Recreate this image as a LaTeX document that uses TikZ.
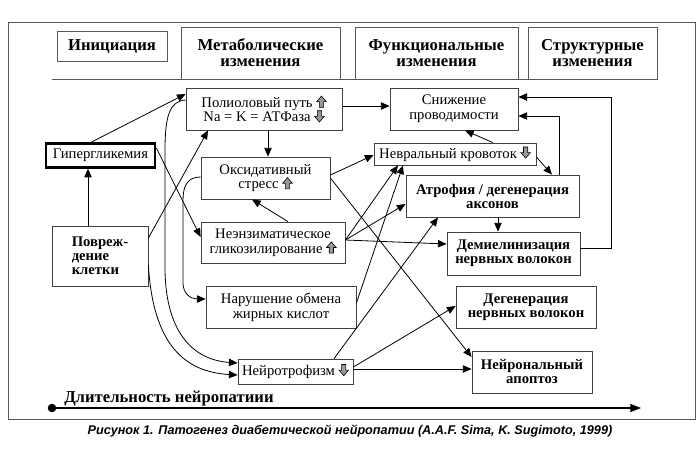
\documentclass[tikz,border=0pt]{standalone}
\usepackage{fontspec}
\setmainfont{Liberation Serif}
\newfontfamily\capfont{Liberation Sans}
\usetikzlibrary{arrows.meta}
\newcommand{\uarr}{\tikz[baseline=0pt,x=1pt,y=1pt,line width=0.45pt]\draw[draw=black,fill=black!40] (2,0)--(2,4.2)--(0,4.2)--(3.6,8.4)--(7.2,4.2)--(5.2,4.2)--(5.2,0)--cycle;}
\newcommand{\darr}{\tikz[baseline=0pt,x=1pt,y=1pt,line width=0.45pt]\draw[draw=black,fill=black!40] (2,8.4)--(2,4.2)--(0,4.2)--(3.6,0)--(7.2,4.2)--(5.2,4.2)--(5.2,8.4)--cycle;}
\begin{document}
\begin{tikzpicture}[x=0.75pt,y=-0.75pt,
  box/.style={draw=black!75, line width=0.6pt, fill=white, inner sep=0pt, align=center,
              font=\fontsize{11}{11}\selectfont},
  bbox/.style={box, font=\fontsize{11}{10.5}\selectfont\bfseries},
  head/.style={draw=black!65, line width=0.6pt, inner sep=0pt, align=center,
               font=\fontsize{12.5}{12}\selectfont\bfseries},
  conn/.style={line width=0.6pt, -{Triangle[length=6.5pt,width=5.5pt]}}]
\useasboundingbox (0,0) rectangle (700,462);
% frame
\draw[black!65, line width=0.7pt] (8,22) rectangle (695,419);
% header
\node[head, minimum width=82.5pt, minimum height=22.5pt] (init) at (112,46) {Инициация};
\node[head, minimum width=119.25pt, minimum height=39pt] (meta) at (260.5,53) {Метаболические\\изменения};
\node[head, minimum width=122.25pt, minimum height=39pt] (func) at (436.5,53) {Функциональные\\изменения};
\node[head, minimum width=96.75pt, minimum height=39pt] (struct) at (592.5,53) {Структурные\\изменения};
\draw[black!65, line width=0.7pt] (52,79) -- (657,79);
% boxes
\node[box, minimum width=117pt, minimum height=31.5pt] (poly) at (264,109) {Полиоловый путь \uarr\\Na = K = АТФаза \darr};
\node[box, draw=black, line width=1.8pt, minimum width=82pt, minimum height=18pt] (hyper) at (100.5,155.5) {Гипергликемия};
\node[box, minimum width=96.75pt, minimum height=31.5pt] (oxid) at (265.5,178) {Оксидативный\\стресс \uarr};
\node[box, minimum width=108pt, minimum height=30.75pt] (glyc) at (273,242.5) {Неэнзиматическое\\гликозилирование \uarr};
\node[bbox, minimum width=72pt, minimum height=45pt, align=left] (damage) at (100,256) {Повреж-\\дение\\ клетки};
\node[box, minimum width=112.5pt, minimum height=31.5pt] (fat) at (281,307) {Нарушение обмена\\жирных кислот};
\node[box, minimum width=86.25pt, minimum height=18.75pt] (neurotr) at (295.5,371.5) {Нейротрофизм \darr};
\node[box, minimum width=96pt, minimum height=31.5pt] (cond) at (454,109) {Снижение\\проводимости};
\node[box, minimum width=121.5pt, minimum height=16.5pt] (flow) at (455,154) {Невральный кровоток \darr};
\node[bbox, minimum width=129.75pt, minimum height=31.5pt] (atrophy) at (492.5,196) {Атрофия / дегенерация\\аксонов};
\node[bbox, minimum width=99.75pt, minimum height=32.25pt] (demyel) at (513.5,253.5) {Демиелинизация\\нервных волокон};
\node[bbox, minimum width=105pt, minimum height=31.5pt] (degen) at (526,307) {Дегенерация\\нервных волокон};
\node[bbox, minimum width=90pt, minimum height=31.5pt] (apopt) at (532,372) {Нейрональный\\апоптоз};
% connectors
\draw[conn] (hyper.north -| 91,0) -- (poly.west |- 0,94);
\draw[conn] (damage.north -| 88,0) -- (hyper.south -| 88,0);
\draw[conn] (damage.east |- 0,238) -- (poly.south -| 208,0);
\draw[conn] (hyper.east |- 0,148) -- (glyc.west |- 0,237);
\draw[conn] (poly.south -| 268,0) -- (oxid.north -| 268,0);
\draw[conn] (poly.east |- 0,106) -- (cond.west |- 0,106);
\draw[conn] (flow.north -| 493,0) -- (cond.south -| 465,0);
\draw[conn] (flow.east |- 0,157) -- (atrophy.north -| 552,0);
\draw[conn] (atrophy.north -| 559,0) |- (cond.east |- 0,116);
\draw[conn] (demyel.east |- 0,248) -- ++(31,0) |- (cond.east |- 0,97);
\draw[conn] (atrophy.south -| 498,0) -- (demyel.north -| 498,0);
\draw[conn] (neurotr.north -| 334,0) -- (atrophy.south -| 438,0);
\draw[conn] (fat.east |- 0,303) -- (flow.south -| 403,0);
\draw[conn] (glyc.east |- 0,240) -- (flow.south -| 398,0);
\draw[conn] (glyc.east |- 0,240) -- (atrophy.west |- 0,204);
\draw[conn] (glyc.east |- 0,240) -- (demyel.west |- 0,244);
\draw[conn] (glyc.north -| 288,0) -- (oxid.south -| 252,0);
\draw[conn] (oxid.east |- 0,175) -- (flow.west |- 0,155);
\draw[conn] (oxid.east |- 0,178) -- (apopt.west |- 0,357);
\draw[conn] (oxid.west |- 0,177) .. controls (188,177) and (183,185) .. (183,200) -- (183,283) .. controls (183,293) and (190,299) .. (fat.west |- 0,299);
\draw[conn] (poly.west |- 0,100) .. controls (170,101) and (165,115) .. (165,150) -- (165,270) .. controls (166,335) and (195,360) .. (neurotr.west |- 0,363);
\draw[conn] (damage.east |- 0,265) .. controls (153,345) and (185,372) .. (neurotr.west |- 0,375);
\draw[conn] (neurotr.east |- 0,369) -- (apopt.west |- 0,369);
\draw[conn] (neurotr.east |- 0,367) -- (degen.west |- 0,306);
% time axis
\coordinate (tstart) at (52,408);
\coordinate (tend) at (641,408);
\draw[line width=0.8pt, -{Triangle[length=8pt,width=6pt]}] (tstart) -- (tend);
\fill (tstart) circle (3.2pt);
\node[anchor=base west, inner sep=0pt, font=\fontsize{12.5}{12.5}\selectfont\bfseries] (tlabel) at (64,402) {Длительность нейропатиии};
% caption
\node[inner sep=0pt, font=\capfont\fontsize{9.5}{9.5}\selectfont\bfseries\itshape] (cap) at (350,431) {Рисунок 1. Патогенез диабетической нейропатии (A.A.F. Sima, K. Sugimoto, 1999)};
\end{tikzpicture}
\end{document}
